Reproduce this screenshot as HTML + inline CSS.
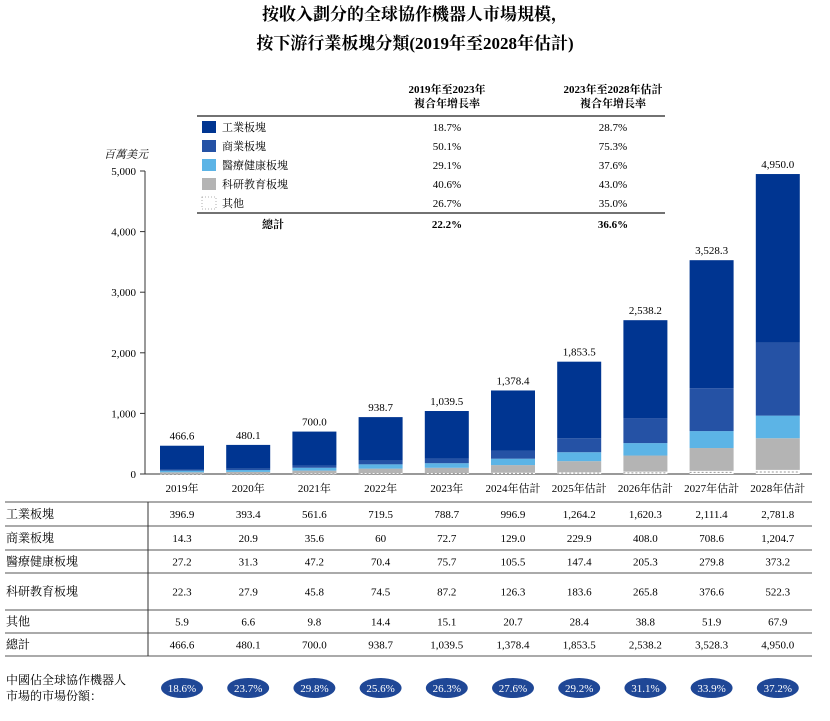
<!DOCTYPE html>
<html><head><meta charset="utf-8"><style>
body{margin:0;background:#fff;width:830px;height:716px;overflow:hidden;font-family:"Liberation Serif","Noto Serif CJK SC",serif;color:#222}
</style></head><body>
<svg id="c" width="830" height="716" xmlns="http://www.w3.org/2000/svg" font-family="Liberation Serif, Noto Serif CJK SC, serif"></svg>
<script>
const years=["2019年","2020年","2021年","2022年","2023年","2024年估計","2025年估計","2026年估計","2027年估計","2028年估計"];
const industrial=[396.9,393.4,561.6,719.5,788.7,996.9,1264.2,1620.3,2111.4,2781.8];
const commercial=[14.3,20.9,35.6,60,72.7,129.0,229.9,408.0,708.6,1204.7];
const medical=[27.2,31.3,47.2,70.4,75.7,105.5,147.4,205.3,279.8,373.2];
const research=[22.3,27.9,45.8,74.5,87.2,126.3,183.6,265.8,376.6,522.3];
const others=[5.9,6.6,9.8,14.4,15.1,20.7,28.4,38.8,51.9,67.9];
const totals=[466.6,480.1,700.0,938.7,1039.5,1378.4,1853.5,2538.2,3528.3,4950.0];
const tableText={industrial:["396.9","393.4","561.6","719.5","788.7","996.9","1,264.2","1,620.3","2,111.4","2,781.8"],commercial:["14.3","20.9","35.6","60","72.7","129.0","229.9","408.0","708.6","1,204.7"],medical:["27.2","31.3","47.2","70.4","75.7","105.5","147.4","205.3","279.8","373.2"],research:["22.3","27.9","45.8","74.5","87.2","126.3","183.6","265.8","376.6","522.3"],others:["5.9","6.6","9.8","14.4","15.1","20.7","28.4","38.8","51.9","67.9"]};
const shares=["18.6%","23.7%","29.8%","25.6%","26.3%","27.6%","29.2%","31.1%","33.9%","37.2%"];
const yTicks=[0,1000,2000,3000,4000,5000];
const cagrA=["18.7%","50.1%","29.1%","40.6%","26.7%"];
const cagrB=["28.7%","75.3%","37.6%","43.0%","35.0%"];
const segNames=["工業板塊","商業板塊","醫療健康板塊","科研教育板塊","其他"];
const colors=["#003591","#2552a5","#5cb4e6","#b4b4b4","#ffffff"];

const svg=document.getElementById('c');const NS="http://www.w3.org/2000/svg";
function el(t,a,txt){const e=document.createElementNS(NS,t);for(const k in a)e.setAttribute(k,a[k]);if(txt!==undefined)e.textContent=txt;svg.appendChild(e);return e;}
const y=v=>474-v*303/5000;
const x=i=>182+i*66.2;
const fmt=v=>v.toLocaleString('en-US',{minimumFractionDigits:1,maximumFractionDigits:1});

let t=el('text',{x:415,y:20,'text-anchor':'middle','font-size':17,'font-weight':'bold'},'按收入劃分的全球協作機器人市場規模，');

t=el('text',{x:415,y:49,'text-anchor':'middle','font-size':17,'font-weight':'bold'},'按下游行業板塊分類(2019年至2028年估計)');


// y axis
let a=el('line',{x1:145,y1:y(5000),x2:145,y2:474,stroke:'#333','stroke-width':1});

a=el('line',{x1:140,y1:474,x2:812,y2:474,stroke:'#333','stroke-width':1});

yTicks.forEach(v=>{
 const l=el('line',{x1:140,y1:y(v),x2:145,y2:y(v),stroke:'#333'});
 
 const tt=el('text',{x:136,y:y(v)+4,'text-anchor':'end','font-size':11},v.toLocaleString('en-US'));
 
});
t=el('text',{x:104,y:158,'font-size':11,'font-style':'italic'},'百萬美元');


// bars
const series=[others,research,medical,commercial,industrial];
const scol=["#ffffff","#b4b4b4","#5cb4e6","#2552a5","#003591"];
const sname=["others","research","medical","commercial","industrial"];
years.forEach((yr,i)=>{
 let base=0;
 series.forEach((s,k)=>{
  const r=el('rect',{x:x(i)-22,y:y(base+s[i]),width:44,height:y(base)-y(base+s[i]),fill:scol[k]});
  
  if(k===0){const d=el('line',{x1:x(i)-22,y1:y(base+s[i]/2),x2:x(i)+22,y2:y(base+s[i]/2),stroke:'#999','stroke-dasharray':'2,2'});
   }
  base+=s[i];
 });
 const tl=el('text',{x:x(i),y:y(totals[i])-6,'text-anchor':'middle','font-size':11},fmt(totals[i]));
 
 const xl=el('text',{x:x(i),y:492,'text-anchor':'middle','font-size':11},yr);
 
});

// legend/CAGR table
[['2019年至2023年',447],['2023年至2028年估計',613]].forEach(([h,cx])=>{
 let q=el('text',{x:cx,y:93,'text-anchor':'middle','font-size':11,'font-weight':'bold'},h);
 
 q=el('text',{x:cx,y:107,'text-anchor':'middle','font-size':11,'font-weight':'bold'},'複合年增長率');
 
});
[116,213].forEach(yy=>{const l=el('line',{x1:197,y1:yy,x2:665,y2:yy,stroke:'#444','stroke-width':1.5});
 });
segNames.forEach((n,k)=>{
 const yy=127+k*19;
 let r=el('rect',{x:202,y:yy-6,width:14,height:12,fill:colors[k]});
 if(k===4){r.setAttribute('stroke','#999');r.setAttribute('stroke-dasharray','1,2');r.setAttribute('stroke-width','0.8');}
 
 let q=el('text',{x:222,y:yy+4,'font-size':11},n);
 
 q=el('text',{x:447,y:yy+4,'text-anchor':'middle','font-size':11},cagrA[k]);
 
 q=el('text',{x:613,y:yy+4,'text-anchor':'middle','font-size':11},cagrB[k]);
 
});
[['總計',273],['22.2%',447],['36.6%',613]].forEach(([s,cx])=>{
 const q=el('text',{x:cx,y:228,'text-anchor':'middle','font-size':11,'font-weight':'bold'},s);
 
});

// data table
const rowLines=[502,526,550,573,610,633,656];
rowLines.forEach(yy=>{const l=el('line',{x1:5,y1:yy,x2:812,y2:yy,stroke:'#555','stroke-width':1});
 });
let v=el('line',{x1:148,y1:502,x2:148,y2:656,stroke:'#333'});

const rows=[['工業板塊',tableText.industrial],['商業板塊',tableText.commercial],['醫療健康板塊',tableText.medical],['科研教育板塊',tableText.research],['其他',tableText.others],['總計',totals.map(fmt)]];
rows.forEach((r,ri)=>{
 const cy=(rowLines[ri]+rowLines[ri+1])/2+4;
 let q=el('text',{x:6,y:cy,'font-size':12},r[0]);
 
 r[1].forEach((s,i)=>{q=el('text',{x:x(i),y:cy,'text-anchor':'middle','font-size':11},s);
  });
});
let q=el('text',{x:6,y:684,'font-size':12},'中國佔全球協作機器人');

q=el('text',{x:6,y:700,'font-size':12},'市場的市場份額：');

shares.forEach((s,i)=>{
 const e=el('ellipse',{cx:x(i),cy:688,rx:21,ry:10,fill:'#1f4796'});
 
 const w=el('text',{x:x(i),y:692,'text-anchor':'middle','font-size':11,fill:'#fff'},s);
 
});
</script>
</body></html>
